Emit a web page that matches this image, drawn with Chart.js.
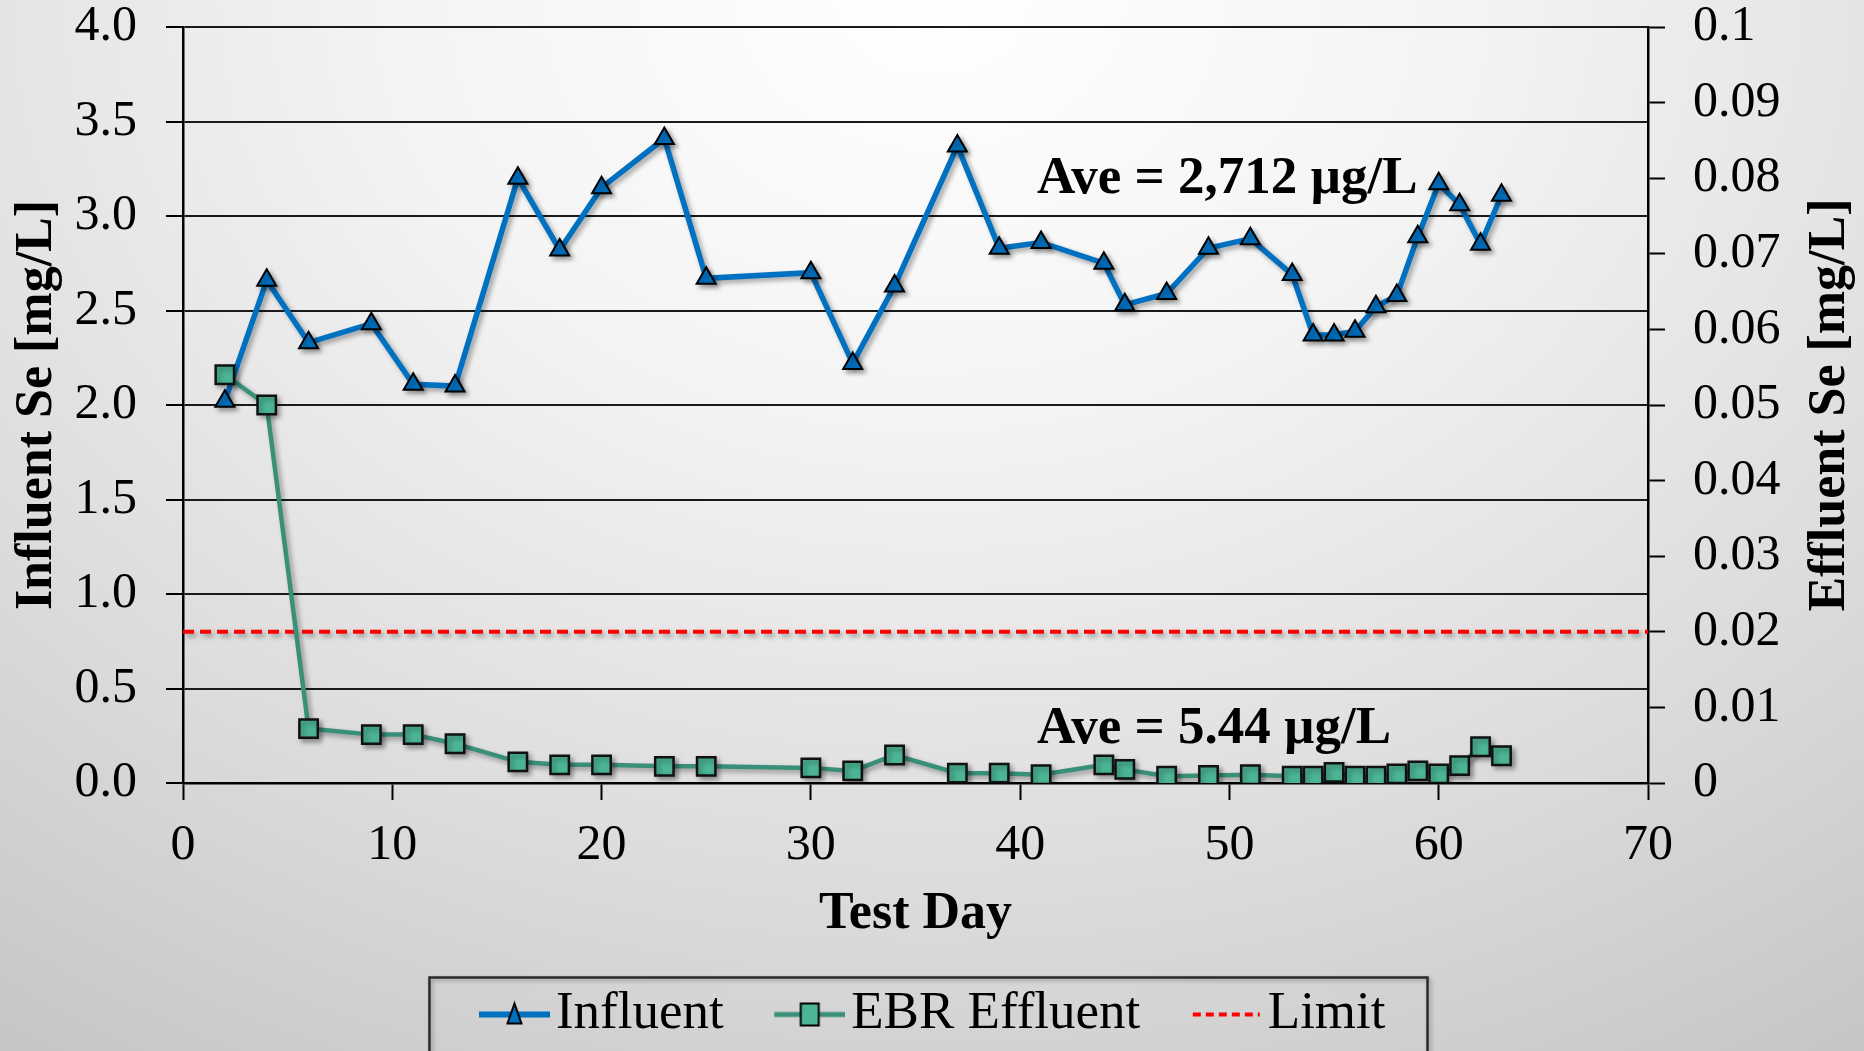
<!DOCTYPE html>
<html>
<head>
<meta charset="utf-8">
<script src="https://cdn.jsdelivr.net/npm/chart.js@4.4.1/dist/chart.umd.min.js"></script>
<style>
  html, body { margin: 0; padding: 0; overflow: hidden; }
  body {
    width: 1864px;
    height: 1051px;
    background: radial-gradient(ellipse 95% 130% at 50% 0%, #ffffff 0%, #f4f4f4 30%, #dcdcdc 65%, #c0c0c0 100%);
  }
  canvas { display: block; }
</style>
</head>
<body>
<canvas id="myChart" width="1864" height="1051"></canvas>
<script>
// test days shared by both series
const testDays = [2, 4, 6, 9, 11, 13, 16, 18, 20, 23, 25, 30, 32, 34, 37, 39, 41, 44, 45, 47,
  49, 51, 53, 54, 55, 56, 57, 58, 59, 60, 61, 62, 63];

// influent Se, mg/L (left axis)
const influent = [2.02, 2.66, 2.33, 2.43, 2.11, 2.10, 3.20, 2.82, 3.15, 3.41, 2.67, 2.70, 2.22, 2.63, 3.37, 2.83, 2.86, 2.75, 2.53, 2.59,
  2.83, 2.88, 2.69, 2.37, 2.37, 2.39, 2.52, 2.58, 2.89, 3.17, 3.06, 2.85, 3.11];

// EBR effluent Se, mg/L (right axis)
const effluent = [0.054, 0.050, 0.0072, 0.0064, 0.0064, 0.0052, 0.0028, 0.0024, 0.0024, 0.0022, 0.0022, 0.0020, 0.0016, 0.0037, 0.0013, 0.0013, 0.0011, 0.0024, 0.0018, 0.0009,
  0.0010, 0.0011, 0.0009, 0.0009, 0.0014, 0.0009, 0.0009, 0.0012, 0.0016, 0.0012, 0.0023, 0.0048, 0.0036];

// limit line (right axis)
const limitDays = [0, 70];
const limitValues = [0.02, 0.02];

const seriesNames = ["Influent", "EBR Effluent", "Limit"];
const aveTexts = ["Ave = 2,712 \u00b5g/L", "Ave = 5.44 \u00b5g/L"];

const serif = '"Liberation Serif", "Times New Roman", serif';
const blue = "#0070c0";
const teal = "#3a8f78";
const tealFill = "#4cb596";

// where the "Ave" notes sit, in data units (day, left axis value)
const notePos = [{ day: 40.8, level: 3.12 }, { day: 40.8, level: 0.212 }];

//------- small legend symbols: line with marker --------
function legendSymbol(kind) {
  const c = document.createElement("canvas");
  c.width = 112;
  c.height = 34;
  const g = c.getContext("2d");
  const x0 = 41, x1 = 112, cy = 17, cx = (41 + 112) / 2;
  g.lineCap = "butt";
  if (kind === "limit") {
    g.strokeStyle = "#ff0000";
    g.lineWidth = 4;
    g.setLineDash([8, 5]);
    g.beginPath(); g.moveTo(x0 + 2, cy); g.lineTo(x1 - 2, cy); g.stroke();
    return c;
  }
  g.strokeStyle = kind === "inf" ? blue : teal;
  g.lineWidth = kind === "inf" ? 6 : 5;
  g.beginPath(); g.moveTo(x0, cy); g.lineTo(x1, cy); g.stroke();
  g.lineWidth = 2;
  g.strokeStyle = "#000";
  if (kind === "inf") {
    g.fillStyle = blue;
    g.beginPath();
    g.moveTo(cx, cy - 11); g.lineTo(cx + 7, cy + 9); g.lineTo(cx - 7, cy + 9);
    g.closePath(); g.fill(); g.stroke();
  } else {
    g.fillStyle = tealFill;
    g.fillRect(cx - 9, cy - 11, 18, 22);
    g.strokeRect(cx - 9, cy - 11, 18, 22);
  }
  return c;
}
const legendIcons = [legendSymbol("inf"), legendSymbol("eff"), legendSymbol("limit")];

//------- drop shadow on the series --------
const shadowPlugin = {
  id: "shadow",
  beforeDatasetsDraw(chart) {
    const c = chart.ctx;
    c.save();
    c.shadowColor = "rgba(0,0,0,0.35)";
    c.shadowBlur = 5;
    c.shadowOffsetX = 3;
    c.shadowOffsetY = 3;
  },
  afterDatasetsDraw(chart) {
    chart.ctx.restore();
  }
};

//------- notes, right title, legend frame --------
const extrasPlugin = {
  id: "extras",
  afterDraw(chart) {
    const { ctx, scales } = chart;
    ctx.save();
    ctx.fillStyle = "#000";
    ctx.font = "bold 53px " + serif;
    ctx.textAlign = "left";
    ctx.textBaseline = "alphabetic";
    aveTexts.forEach((t, i) => {
      ctx.fillText(t, scales.x.getPixelForValue(notePos[i].day), scales.y.getPixelForValue(notePos[i].level));
    });
    ctx.restore();

    // right axis title reads bottom-to-top
    const y2 = scales.y2;
    ctx.save();
    ctx.translate(y2.right - 13, (y2.top + y2.bottom) / 2);
    ctx.rotate(-Math.PI / 2);
    ctx.font = "bold 52px " + serif;
    ctx.fillStyle = "#000";
    ctx.textAlign = "center";
    ctx.textBaseline = "middle";
    ctx.fillText("Effluent Se [mg/L]", 0, 0);
    ctx.restore();

    // frame round the legend
    const hb = chart.legend.legendHitBoxes;
    if (hb && hb.length) {
      const first = hb[0], last = hb[hb.length - 1];
      const cy = first.top + first.height / 2;
      const left = first.left - 29;
      const right = last.left + last.width + 42;
      ctx.save();
      ctx.shadowColor = "rgba(0,0,0,0.3)";
      ctx.shadowBlur = 4;
      ctx.shadowOffsetX = 2;
      ctx.shadowOffsetY = 2;
      ctx.strokeStyle = "#2a2a2a";
      ctx.lineWidth = 2.5;
      ctx.strokeRect(left, cy - 37, right - left, 80);
      ctx.restore();
    }
  }
};

// keep tick-label overhang from pushing the plot area around
const noOverhang = (s) => {
  s.paddingTop = 0;
  s.paddingBottom = 0;
  s.paddingLeft = 0;
  s.paddingRight = 0;
};

const ctx = document.getElementById("myChart");

new Chart(ctx, {
  type: "line",
  data: {
    datasets: [
      {
        label: seriesNames[0],
        data: testDays.map((d, i) => ({ x: d, y: influent[i] })),
        yAxisID: "y",
        borderColor: blue,
        borderWidth: 5.5,
        pointStyle: "triangle",
        pointRadius: 11,
        pointBackgroundColor: blue,
        pointBorderColor: "#000",
        pointBorderWidth: 2,
        tension: 0,
        order: 2
      },
      {
        label: seriesNames[1],
        data: testDays.map((d, i) => ({ x: d, y: effluent[i] })),
        yAxisID: "y2",
        borderColor: teal,
        borderWidth: 4.5,
        pointStyle: "rect",
        pointRadius: 13,
        pointBackgroundColor: tealFill,
        pointBorderColor: "#111",
        pointBorderWidth: 2.5,
        tension: 0,
        order: 1
      },
      {
        label: seriesNames[2],
        data: limitDays.map((d, i) => ({ x: d, y: limitValues[i] })),
        yAxisID: "y2",
        borderColor: "#ff0000",
        borderWidth: 4,
        borderDash: [11, 6],
        pointRadius: 0,
        order: 3
      }
    ]
  },
  options: {
    responsive: false,
    animation: false,
    devicePixelRatio: 1,
    layout: { padding: { top: 27, right: 20, bottom: 0, left: 0 } },
    plugins: {
      tooltip: { enabled: false },
      legend: {
        position: "bottom",
        labels: {
          usePointStyle: true,
          pointStyleWidth: 71,
          padding: 30,
          color: "#000",
          font: { family: serif, size: 53 },
          sort: (a, b) => a.datasetIndex - b.datasetIndex,
          generateLabels(chart) {
            const items = Chart.defaults.plugins.legend.labels.generateLabels(chart);
            items.forEach((it) => { it.pointStyle = legendIcons[it.datasetIndex]; });
            return items;
          }
        }
      }
    },
    scales: {
      x: {
        type: "linear",
        min: 0,
        max: 70,
        afterFit: (s) => { s.height = 175; noOverhang(s); },
        ticks: { stepSize: 10, color: "#000", padding: 16, font: { family: serif, size: 50, lineHeight: 1.2 } },
        grid: { drawOnChartArea: false, drawTicks: true, tickLength: 17, tickColor: "#000", tickWidth: 2 },
        border: { display: true, color: "#000", width: 2.5 },
        title: {
          display: true,
          text: "Test Day",
          color: "#000",
          font: { family: serif, size: 52, weight: "bold", lineHeight: 1.2 },
          padding: { top: 0, bottom: 12 }
        }
      },
      y: {
        position: "left",
        min: 0,
        max: 4,
        afterFit: (s) => { s.width = 183; noOverhang(s); },
        ticks: {
          stepSize: 0.5,
          color: "#000",
          padding: 29,
          font: { family: serif, size: 50, lineHeight: 1 },
          callback: (v) => v.toFixed(1)
        },
        grid: { color: "#1a1a1a", lineWidth: 2, tickLength: 17, tickColor: "#000", tickWidth: 2 },
        border: { display: true, color: "#000", width: 2.5 },
        title: {
          display: true,
          text: "Influent Se [mg/L]",
          color: "#000",
          font: { family: serif, size: 52, weight: "bold", lineHeight: 1.2 },
          padding: { top: 6, bottom: 0 }
        }
      },
      y2: {
        position: "right",
        min: 0,
        max: 0.1,
        afterFit: (s) => { s.width = 196; noOverhang(s); },
        ticks: {
          stepSize: 0.01,
          color: "#000",
          padding: 28,
          font: { family: serif, size: 50, lineHeight: 1 },
          callback: (v) => String(+v.toFixed(2))
        },
        grid: { drawOnChartArea: false, drawTicks: true, tickLength: 17, tickColor: "#000", tickWidth: 2 },
        border: { display: true, color: "#000", width: 2.5 }
      }
    }
  },
  plugins: [shadowPlugin, extrasPlugin]
});
</script>
</body>
</html>
